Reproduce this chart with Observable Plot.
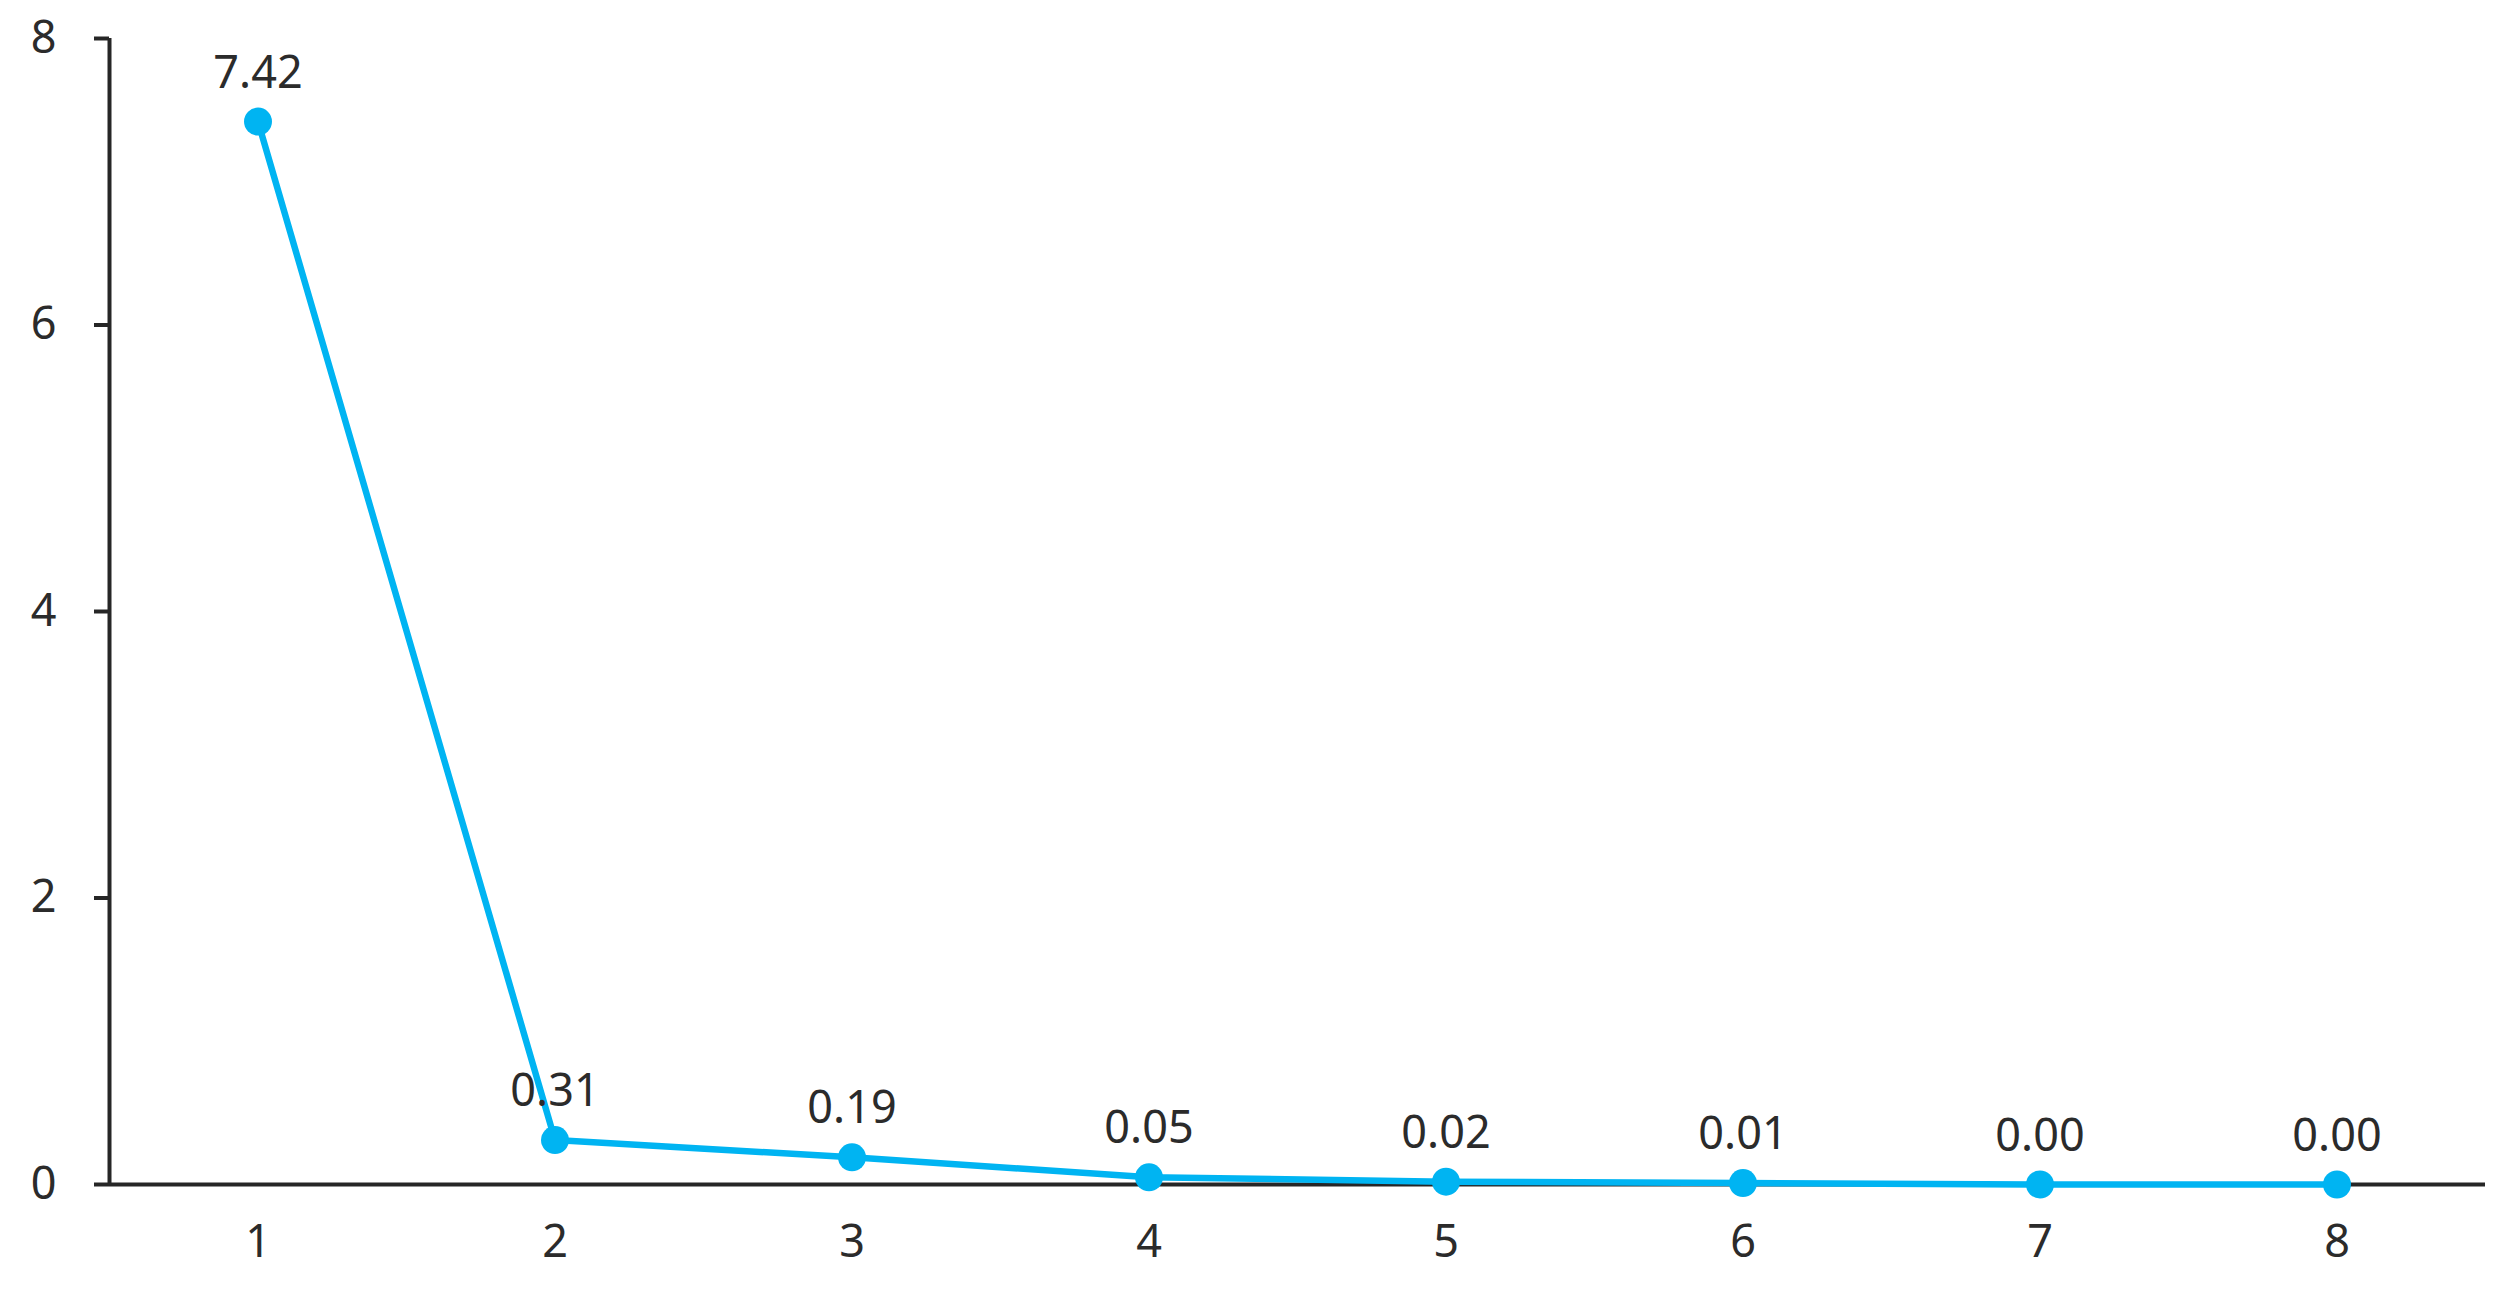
<!DOCTYPE html>
<html>
<head>
<meta charset="utf-8">
<script src="https://cdn.jsdelivr.net/npm/d3@7"></script>
<script src="https://cdn.jsdelivr.net/npm/@observablehq/plot@0.6"></script>
<style>
  html, body { margin: 0; padding: 0; background: #fff; }
  #chart svg { display: block; }
</style>
</head>
<body>
<div id="chart"></div>
<script>
const components = [1, 2, 3, 4, 5, 6, 7, 8];
const values = [7.42, 0.31, 0.19, 0.05, 0.02, 0.01, 0.00, 0.00];
const yTicks = [0, 2, 4, 6, 8];

const data = components.map((c, i) => ({x: c, y: values[i]}));
const xDomain = [d3.min(components) - 0.5, d3.max(components) + 0.5];
const yDomain = [d3.min(yTicks), d3.max(yTicks)];

const blue = "#00B4F2";
const ink = "#2b2b2b";
const axisColor = "#262626";
const font = "'Noto Sans', 'Open Sans', sans-serif";
const fs = 45;

const chart = Plot.plot({
  width: 2509,
  height: 1294,
  marginLeft: 109,
  marginRight: 24,
  marginTop: 38,
  marginBottom: 110,
  style: {fontFamily: font, fontSize: fs + "px", color: ink, background: "#fff"},
  x: {domain: xDomain},
  y: {domain: yDomain},
  marks: [
    Plot.axisY({
      ticks: yTicks, tickSize: 15, tickPadding: 38, tickFormat: d => String(d),
      fontSize: fs, stroke: axisColor, strokeWidth: 4, fill: ink, label: null
    }),
    Plot.axisX({
      ticks: components, tickSize: 0, tickPadding: 41, tickFormat: d => String(d),
      fontSize: fs, fill: ink, label: null
    }),
    Plot.ruleX([xDomain[0]], {stroke: axisColor, strokeWidth: 4}),
    Plot.ruleY([yDomain[0]], {stroke: axisColor, strokeWidth: 4}),
    Plot.line(data, {x: "x", y: "y", stroke: blue, strokeWidth: 6.5}),
    Plot.dot(data, {x: "x", y: "y", r: 14, fill: blue, stroke: "none"}),
    Plot.text(data, {
      x: "x", y: "y", text: d => d.y.toFixed(2),
      dy: -34, lineAnchor: "bottom", textAnchor: "middle",
      fontSize: fs, fill: ink
    })
  ]
});
document.getElementById("chart").appendChild(chart);
</script>
</body>
</html>
